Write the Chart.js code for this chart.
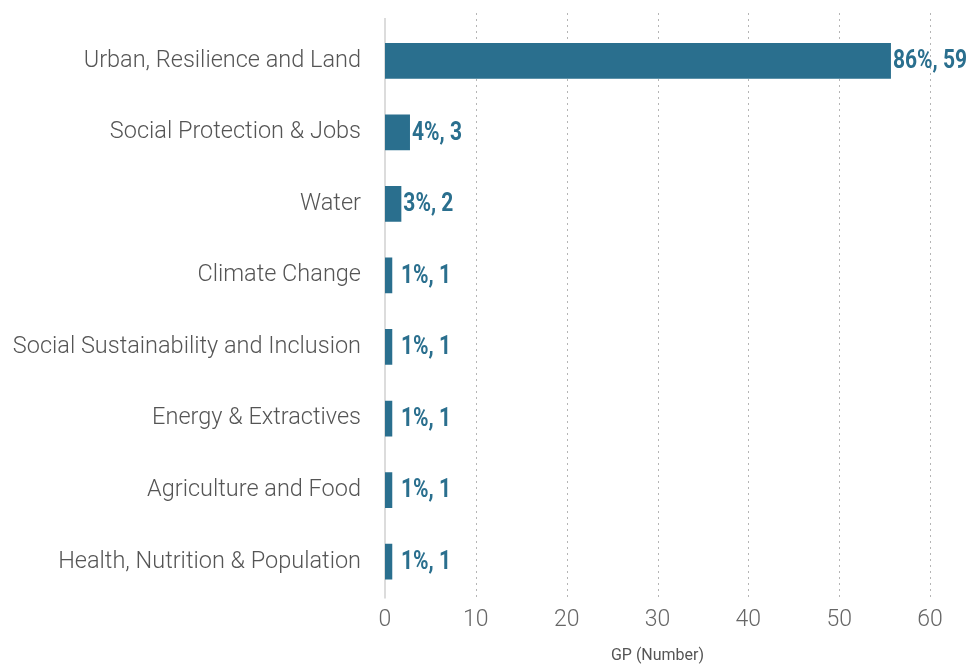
<!DOCTYPE html>
<html>
<head>
<meta charset="utf-8">
<script src="https://cdn.jsdelivr.net/npm/chart.js@4/dist/chart.umd.min.js"></script>
<style>
html, body { margin: 0; padding: 0; background: #fff; }
#wrap { width: 966px; height: 664px; position: relative; }
</style>
</head>
<body>
<div id="wrap"><canvas id="chart"></canvas></div>
<script>
var categories = [
        "Urban, Resilience and Land",
        "Social Protection & Jobs",
        "Water",
        "Climate Change",
        "Social Sustainability and Inclusion",
        "Energy & Extractives",
        "Agriculture and Food",
        "Health, Nutrition & Population"
];

// bar lengths as drawn in the picture
var barValues = [55.7, 2.75, 1.8, 0.8, 0.8, 0.8, 0.8, 0.8];

// text shown next to each bar
var sharePct  = [86, 4, 3, 1, 1, 1, 1, 1];
var gpCounts  = [59, 3, 2, 1, 1, 1, 1, 1];

var xTicks = [0, 10, 20, 30, 40, 50, 60];

var BAR_COLOR = "#2a6f8e";
var FONT = "Roboto, 'DejaVu Sans', sans-serif";

// dotted grid and the left axis line, placed through the x scale
var gridPlugin = {
        id: "grid",
        beforeDatasetsDraw: function(chart) {
                var ctx = chart.ctx;
                var x = chart.scales.x;
                var area = chart.chartArea;
                ctx.save();
                ctx.strokeStyle = "#b5b5b5";
                ctx.lineWidth = 1;
                ctx.setLineDash([2, 4]);
                for (var i = 1; i < xTicks.length; i++) {
                        var px = Math.round(x.getPixelForValue(xTicks[i])) + 0.5;
                        ctx.beginPath();
                        ctx.moveTo(px, area.top - 12);
                        ctx.lineTo(px, area.bottom);
                        ctx.stroke();
                }
                ctx.setLineDash([]);
                ctx.strokeStyle = "#dcdcdc";
                ctx.lineWidth = 2;
                var x0 = x.getPixelForValue(0);
                ctx.beginPath();
                ctx.moveTo(x0, area.top - 7);
                ctx.lineTo(x0, area.bottom + 1);
                ctx.stroke();
                ctx.restore();
        }
};

// bold, slightly condensed value labels right of each bar
var labelPlugin = {
        id: "barlabels",
        afterDatasetsDraw: function(chart) {
                var ctx = chart.ctx;
                var meta = chart.getDatasetMeta(0);
                var x0 = chart.scales.x.getPixelForValue(0);
                var squeeze = 0.84;
                for (var i = 0; i < meta.data.length; i++) {
                        var bar = meta.data[i];
                        var lx = Math.max(bar.x + 2, x0 + 16);
                        ctx.save();
                        ctx.translate(lx, bar.y + 1);
                        ctx.scale(squeeze, 1);
                        ctx.fillStyle = BAR_COLOR;
                        ctx.font = "bold 25px " + FONT;
                        ctx.textAlign = "left";
                        ctx.textBaseline = "middle";
                        ctx.fillText(sharePct[i] + "%, " + gpCounts[i], 0, 0);
                        ctx.restore();
                }
        }
};

var MyChart = new Chart(document.getElementById("chart"), {
        type: "bar",
        data: {
                labels: categories,
                datasets: [{
                        label: "GP (Number)",
                        data: barValues,
                        backgroundColor: BAR_COLOR,
                        categoryPercentage: 1.0,
                        barPercentage: 0.5
                }]
        },
        options: {
                indexAxis: "y",
                responsive: true,
                maintainAspectRatio: false,
                animation: false,
                layout: { padding: { top: 25, right: 36, left: 0, bottom: 0 } },
                plugins: {
                        legend: { display: false },
                        tooltip: { enabled: false }
                },
                scales: {
                        x: {
                                min: 0,
                                max: 60,
                                afterBuildTicks: function(scale) {
                                        scale.ticks = xTicks.map(function(v) { return { value: v }; });
                                },
                                grid: { display: false, drawTicks: false },
                                border: { display: false },
                                ticks: {
                                        padding: 9,
                                        color: "#666",
                                        font: { family: FONT, size: 23, weight: 300 }
                                },
                                title: {
                                        display: true,
                                        text: "GP (Number)",
                                        color: "#555",
                                        padding: { top: 5, bottom: 0 },
                                        font: { family: FONT, size: 16, lineHeight: 1.0 }
                                }
                        },
                        y: {
                                afterFit: function(scale) {
                                        scale.width = 385;
                                        scale.paddingTop = 0;
                                        scale.paddingBottom = 0;
                                },
                                grid: { display: false, drawTicks: false },
                                border: { display: false },
                                ticks: {
                                        padding: 24,
                                        color: "#555",
                                        font: { family: FONT, size: 23.5, weight: 300 }
                                }
                        }
                }
        },
        plugins: [gridPlugin, labelPlugin]
});
</script>
</body>
</html>
